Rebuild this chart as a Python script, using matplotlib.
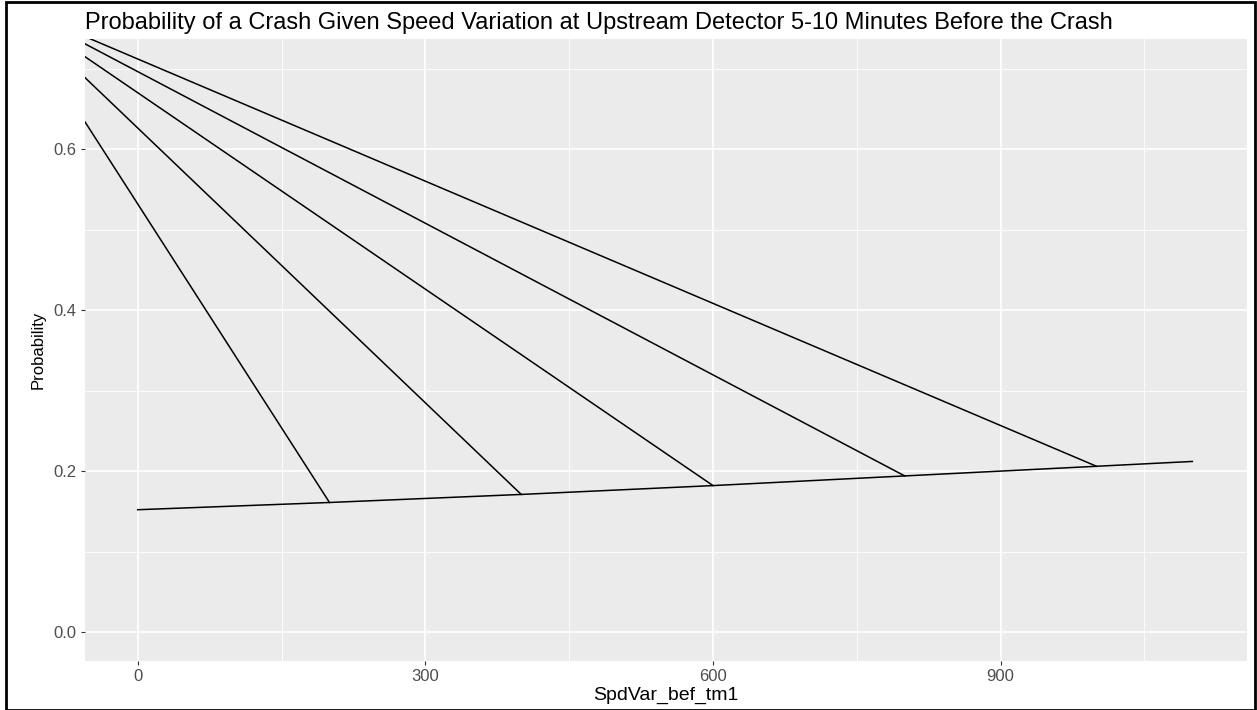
import matplotlib
matplotlib.use("Agg")
import matplotlib.pyplot as plt
from matplotlib.patches import Rectangle
from matplotlib.ticker import MultipleLocator

# baseline curve (SpdVar_bef_tm1 -> probability)
base_x = [0, 200, 400, 600, 800, 1000, 1100]
base_y = [0.152, 0.161, 0.171, 0.182, 0.194, 0.206, 0.212]

# diagonal paths entering from the left edge and landing on the baseline
diag_start_x = [-55, -55, -55, -55, -55]
diag_start_y = [0.634, 0.689, 0.715, 0.731, 0.740]
diag_end_x = [200, 400, 600, 800, 1000]
diag_end_y = [0.161, 0.171, 0.182, 0.194, 0.206]

x_ticks = [0, 300, 600, 900]
y_ticks = [0.0, 0.2, 0.4, 0.6]
y_tick_labels = ["0.0", "0.2", "0.4", "0.6"]

title = "Probability of a Crash Given Speed Variation at Upstream Detector 5-10 Minutes Before the Crash"
W, H = 1257, 710
FONT = "Liberation Sans"

fig = plt.figure(figsize=(W / 100, H / 100), dpi=100)
ax = fig.add_axes([85 / W, (H - 661) / H, (1247 - 85) / W, (661 - 39) / H])
ax.set_facecolor("#EBEBEB")

ax.plot(base_x, base_y, color="black", lw=1.1, zorder=3)
for x0, y0, x1, y1 in zip(diag_start_x, diag_start_y, diag_end_x, diag_end_y):
    ax.plot([x0, x1], [y0, y1], color="black", lw=1.1, zorder=3)

ax.xaxis.set_minor_locator(MultipleLocator(150))
ax.yaxis.set_minor_locator(MultipleLocator(0.1))
ax.set_xticks(x_ticks)
ax.set_xticklabels([str(v) for v in x_ticks], family=FONT)
ax.set_yticks(y_ticks)
ax.set_yticklabels(y_tick_labels, family=FONT)
ax.set_xlim(-55, 1157)
ax.set_ylim(-0.036, 0.737)

ax.grid(which="major", color="white", lw=1.2)
ax.grid(which="minor", color="white", lw=0.6)
ax.set_axisbelow(True)
for s in ax.spines.values():
    s.set_visible(False)
ax.tick_params(which="major", length=3, color="#333333", labelcolor="#4D4D4D",
               labelsize=12, pad=3)
ax.tick_params(which="minor", length=0)

ax.set_xlabel("SpdVar_bef_tm1", family=FONT, fontsize=14, labelpad=2)
ax.set_ylabel("Probability", family=FONT, fontsize=12, labelpad=6)
ax.set_title(title, family=FONT, fontsize=17, loc="left", pad=7)

# thin black frame round the whole image
fig.patches.append(Rectangle((6 / W, 0), (1255 - 6) / W, (H - 2) / H,
                             transform=fig.transFigure, fill=False,
                             edgecolor="black", lw=2))

fig.savefig("out.png", dpi=100)
